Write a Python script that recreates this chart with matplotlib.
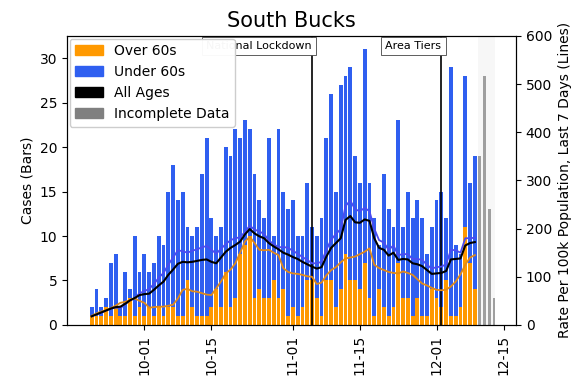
import matplotlib
matplotlib.use("Agg")
import matplotlib.pyplot as plt
import matplotlib.dates as mdates
import matplotlib.patches as mpatches
import matplotlib.transforms as mtransforms
import pandas as pd

# daily cases by specimen date, 20 Sep - 9 Dec
days = pd.date_range("2020-09-20", "2020-12-09", freq="D")
over_60 = [1, 1, 1, 2, 1, 2, 1, 1, 3, 1, 2, 1, 2, 1, 2, 1, 2, 2, 1, 1,
           5, 2, 1, 1, 1, 2, 4, 2, 6, 2, 3, 8, 9, 10, 3, 4, 3, 3, 5, 3,
           4, 1, 2, 1, 2, 5, 5, 3, 1, 5, 5, 2, 4, 8, 5, 5, 4, 7, 3, 1,
           4, 2, 1, 2, 7, 3, 3, 1, 3, 1, 1, 4, 3, 2, 5, 1, 1, 2, 11, 7,
           4]
under_60 = [1, 3, 1, 1, 6, 6, 1, 5, 1, 9, 4, 7, 4, 6, 8, 8, 13, 16, 13, 14,
            6, 8, 10, 16, 20, 10, 6, 9, 14, 17, 19, 13, 14, 12, 14, 10, 9, 18, 5, 19,
            11, 12, 12, 9, 8, 11, 6, 7, 11, 16, 21, 13, 23, 20, 24, 14, 12, 24, 13, 11,
            5, 15, 12, 9, 16, 8, 12, 11, 11, 11, 7, 7, 11, 13, 7, 28, 8, 6, 17, 9,
            15]

# last few days, not yet complete
incomplete_days = pd.date_range("2020-12-10", "2020-12-13", freq="D")
incomplete = [19, 28, 13, 3]

# 7 day rate per 100k
rate_all = [18, 22, 26, 30, 34, 37, 38, 44, 51, 56, 62, 64, 65, 73, 82, 90, 104, 115, 127, 131,
            130, 131, 133, 135, 136, 131, 128, 140, 152, 160, 166, 173, 188, 199, 190, 184, 180, 170, 163, 157,
            150, 146, 141, 137, 131, 126, 121, 117, 120, 142, 160, 170, 180, 218, 226, 213, 212, 219, 216, 180,
            160, 156, 144, 150, 135, 137, 136, 128, 126, 122, 114, 106, 107, 108, 112, 136, 137, 138, 165, 170,
            172]
rate_over = [19, 24, 28, 31, 35, 40, 46, 48, 52, 55, 50, 46, 36, 37, 38, 38, 40, 42, 55, 73,
             75, 70, 69, 66, 63, 62, 76, 90, 107, 115, 128, 150, 173, 183, 170, 156, 155, 156, 150, 145,
             118, 110, 107, 106, 104, 101, 100, 85, 88, 103, 114, 120, 130, 138, 140, 142, 147, 152, 159, 125,
             118, 114, 110, 108, 107, 111, 108, 104, 95, 86, 82, 77, 73, 72, 73, 80, 90, 105, 125, 140,
             145]
rate_under = [18, 22, 25, 30, 34, 36, 35, 43, 51, 56, 66, 70, 75, 85, 98, 108, 125, 140, 155, 153,
              150, 154, 157, 161, 164, 156, 148, 158, 168, 176, 180, 182, 193, 206, 198, 194, 189, 175, 168, 161,
              162, 160, 154, 148, 141, 135, 128, 128, 131, 156, 177, 189, 199, 247, 258, 240, 236, 243, 236, 200,
              176, 171, 156, 165, 145, 147, 147, 137, 137, 135, 125, 117, 120, 121, 126, 156, 155, 150, 180, 180,
              181]

events = [("2020-11-05", "National Lockdown"), ("2020-12-02", "Area Tiers")]

orange = "#ff9900"
blue = "#2f5ff0"

fig, ax1 = plt.subplots(figsize=(5.87, 3.77), dpi=100)
fig.subplots_adjust(left=0.114, right=0.879, top=0.905, bottom=0.138)
ax2 = ax1.twinx()

ax1.bar(days, over_60, width=0.8, color=orange)
ax1.bar(days, under_60, width=0.8, bottom=over_60, color=blue)
ax1.bar(incomplete_days, incomplete, width=0.6, color="gray", alpha=0.85)
# faint shading behind the incomplete days
ax1.axvspan(incomplete_days[0] - pd.Timedelta(hours=10), incomplete_days[-1] + pd.Timedelta(hours=6),
            color="#d8d8d8", alpha=0.18, lw=0)

ax2.plot(days, rate_under, color="#4b4bf0", lw=1.3)
ax2.plot(days, rate_over, color="#e08a1a", lw=1.3)
ax2.plot(days, rate_all, color="black", lw=1.5)

trans = mtransforms.blended_transform_factory(ax1.transData, ax1.transAxes)
for d, label in events:
    x = pd.Timestamp(d)
    ax1.axvline(x, color="black", lw=1.2)
    ax1.text(x, 0.982, label, transform=trans, ha="right", va="top", fontsize=8,
             bbox=dict(boxstyle="square,pad=0.4", fc="white", ec="#444444", lw=0.6))

ax1.set_xlim(pd.Timestamp("2020-09-14 20:00"), pd.Timestamp("2020-12-17 14:00"))
ax1.set_ylim(0, 32.5)
ax2.set_ylim(0, 600)
ax1.set_yticks(range(0, 31, 5))
ax2.set_yticks(range(0, 601, 100))
ax1.set_xticks(pd.to_datetime(["2020-10-01", "2020-10-15", "2020-11-01",
                               "2020-11-15", "2020-12-01", "2020-12-15"]))
ax1.xaxis.set_major_formatter(mdates.DateFormatter("%m-%d"))
plt.setp(ax1.get_xticklabels(), rotation=90)

ax1.set_ylabel("Cases (Bars)")
ax2.set_ylabel("Rate Per 100k Population, Last 7 Days (Lines)")
ax1.set_title("South Bucks", fontsize=15)

handles = [mpatches.Patch(color=orange, label="Over 60s"),
           mpatches.Patch(color=blue, label="Under 60s"),
           mpatches.Patch(color="black", label="All Ages"),
           mpatches.Patch(color="gray", label="Incomplete Data")]
ax2.legend(handles=handles, loc="upper left", fontsize=10, framealpha=0.97,
           borderaxespad=0.2)

fig.savefig("out.png", dpi=100)
